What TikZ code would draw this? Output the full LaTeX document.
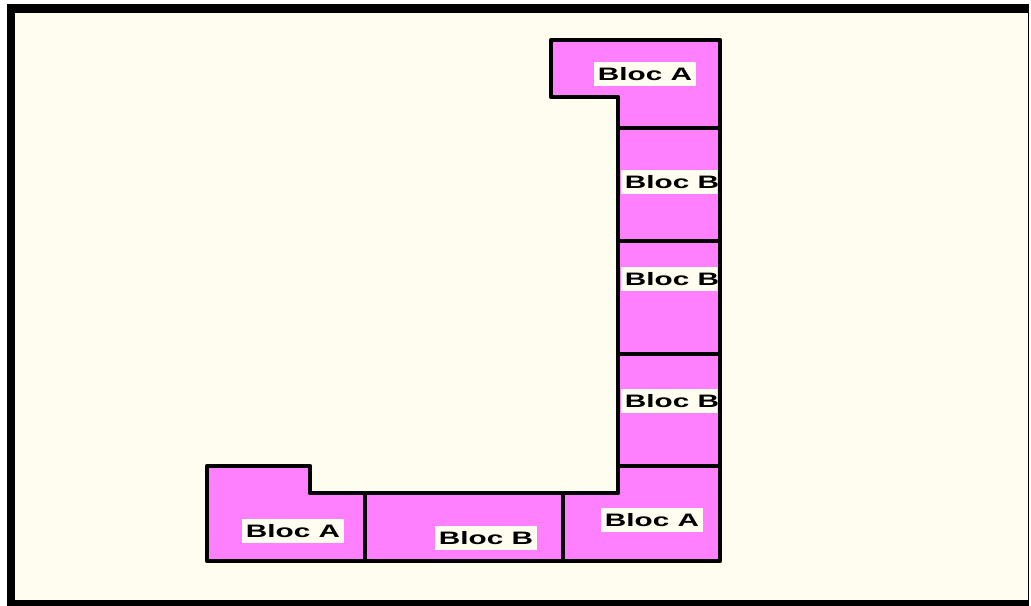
\documentclass[tikz,border=0pt]{standalone}
\usepackage{fontspec}
\usepackage{graphicx}
\setmainfont{Liberation Sans}
\usepackage{tikz}
\definecolor{paper}{RGB}{255,252,240}
\definecolor{blocpink}{RGB}{255,128,255}
\newcommand{\blocname}[1]{\scalebox{1.65}[1]{\bfseries Bloc #1}}

\begin{document}
\begin{tikzpicture}[x=0.75pt,y=-0.75pt]
            \tikzstyle{block}=[fill=blocpink,draw=black,line width=3.6pt,line join=round]
            \tikzstyle{tag}=[fill=paper,inner sep=0pt,minimum width=76pt,minimum height=18pt,font=\fontsize{13.5}{14}\selectfont]

            \useasboundingbox (0,0) rectangle (1031,606);

            % frame
            \fill[white] (0,0) rectangle (1031,606);
            \fill[black] (7,4) rectangle (1029,606);
            \fill[paper] (15,13) rectangle (1027.5,600);

            % top bloc A
            \draw[block] (551,40) -- (720,40) -- (720,128) -- (618,128) -- (618,97) -- (551,97) -- cycle;

            % column of blocs B
            \draw[block] (618,128) rectangle (720,241);
            \draw[block] (618,241) rectangle (720,354);
            \draw[block] (618,354) rectangle (720,466);

            % bottom row
            \draw[block] (618,466) -- (720,466) -- (720,561) -- (563,561) -- (563,493) -- (618,493) -- cycle;
            \draw[block] (365,493) rectangle (563,561);
            \draw[block] (207,466) -- (310,466) -- (310,493) -- (365,493) -- (365,561) -- (207,561) -- cycle;

            % labels
            \node[tag] (aTop) at (645,74) {\blocname{A}};
            \begin{scope}
                \clip (620,130) rectangle (717.5,464);
                \node[tag] (bOne) at (672,182) {\blocname{B}};
                \node[tag] (bTwo) at (672,279) {\blocname{B}};
                \node[tag] (bThree) at (672,401) {\blocname{B}};
            \end{scope}
            \node[tag] (aRight) at (652,520) {\blocname{A}};
            \node[tag] (aLeft) at (293,531) {\blocname{A}};
            \node[tag] (bLow) at (486,538) {\blocname{B}};
        \end{tikzpicture}
\end{document}
